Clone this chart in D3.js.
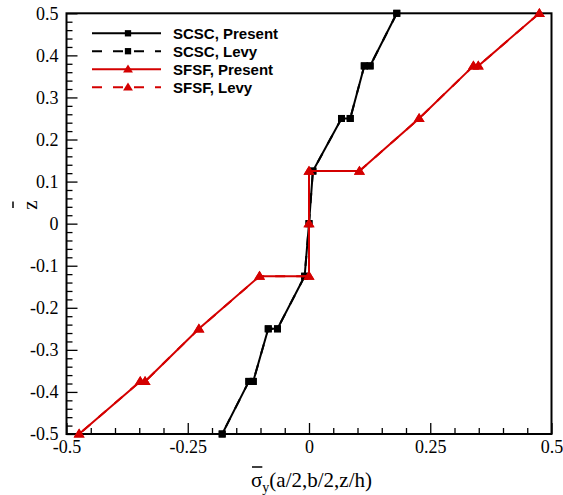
<!DOCTYPE html>
<html><head><meta charset="utf-8">
<script src="https://cdn.jsdelivr.net/npm/d3@7"></script>
<style>body{margin:0;background:#fff}</style>
</head><body><svg id="c" width="563" height="495"></svg>
<script>
// ---- data ----
const scscZ       = [0.5, 0.375, 0.375, 0.25, 0.25, 0.125, 0, -0.125, -0.25, -0.25, -0.375, -0.375, -0.5];
const scscPresent = [0.181, 0.126, 0.114, 0.085, 0.067, 0.008, 0.0, -0.009, -0.065, -0.084, -0.115, -0.124, -0.179];
const scscLevy    = [0.181, 0.126, 0.114, 0.085, 0.067, 0.008, 0.0, -0.009, -0.065, -0.084, -0.115, -0.124, -0.179];
const sfsfZ       = [0.5, 0.375, 0.375, 0.25, 0.125, 0.125, 0, -0.125, -0.125, -0.25, -0.375, -0.375, -0.5];
const sfsfPresent = [0.475, 0.349, 0.339, 0.227, 0.104, 0.0, 0.0, 0.0, -0.102, -0.227, -0.338, -0.348, -0.474];
const sfsfLevy    = [0.475, 0.349, 0.339, 0.227, 0.104, 0.0, 0.0, 0.0, -0.102, -0.227, -0.338, -0.348, -0.474];
const xTicks = [-0.5, -0.25, 0, 0.25, 0.5];
const xTickLabels = ["-0.5", "-0.25", "0", "0.25", "0.5"];
const yTicks = [-0.5, -0.4, -0.3, -0.2, -0.1, 0, 0.1, 0.2, 0.3, 0.4, 0.5];
const yTickLabels = ["-0.5", "-0.4", "-0.3", "-0.2", "-0.1", "0", "0.1", "0.2", "0.3", "0.4", "0.5"];
const legendLabels = ["SCSC, Present", "SCSC, Levy", "SFSF, Present", "SFSF, Levy"];

const RED = "#d40000";
const svg = d3.select("#c");
const L = 66.5, R = 551.5, T = 13.3, B = 434;
const x = d3.scaleLinear().domain([-0.5, 0.5]).range([L, R]);
const y = d3.scaleLinear().domain([-0.5, 0.5]).range([B, T]);

const serif = "Liberation Serif";
const sans = "Liberation Sans";

// minor ticks
const xMinor = d3.range(-10, 11).map(i => i * 0.05).filter(v => !xTicks.some(t => Math.abs(t - v) < 1e-9));
const yMinor = d3.range(-25, 26).map(i => i * 0.02).filter(v => !yTicks.some(t => Math.abs(t - v) < 1e-9));

const gx = svg.append("g").attr("transform", `translate(0,${B})`)
  .call(d3.axisBottom(x).tickValues(xTicks).tickFormat((d, i) => xTickLabels[i]).tickSize(-11).tickPadding(6));
const gxm = svg.append("g").attr("transform", `translate(0,${B})`)
  .call(d3.axisBottom(x).tickValues(xMinor).tickFormat("").tickSize(-6));
const gy = svg.append("g").attr("transform", `translate(${L},0)`)
  .call(d3.axisLeft(y).tickValues(yTicks).tickFormat((d, i) => yTickLabels[i]).tickSize(-11).tickPadding(8));
const gym = svg.append("g").attr("transform", `translate(${L},0)`)
  .call(d3.axisLeft(y).tickValues(yMinor).tickFormat("").tickSize(-6));
[gx, gxm, gy, gym].forEach(g => {
  g.attr("font-family", serif);
  g.select(".domain").remove();
  g.selectAll("line").attr("stroke", "#000").attr("stroke-width", 1.3);
  g.selectAll("text").attr("font-family", serif).attr("font-size", 18).attr("fill", "#000");
});

// frame
svg.append("rect").attr("x", L).attr("y", T).attr("width", R - L).attr("height", B - T)
  .attr("fill", "none").attr("stroke", "#000").attr("stroke-width", 2);

// series
const line = d3.line().x(d => x(d[0])).y(d => y(d[1]));
function series(vals, zs, color, dash, marker) {
  const pts = vals.map((v, i) => [v, zs[i]]);
  svg.append("path").attr("d", line(pts)).attr("fill", "none").attr("stroke", color)
    .attr("stroke-width", 2).attr("stroke-dasharray", dash);
  const g = svg.append("g");
  pts.forEach(p => drawMarker(g, x(p[0]), y(p[1]), color, marker, 1));
}
function drawMarker(g, cx, cy, color, marker, s) {
  if (marker === "square") {
    const w = 7 * s;
    g.append("rect").attr("x", cx - w / 2).attr("y", cy - w / 2).attr("width", w).attr("height", w).attr("fill", color);
  } else {
    const w = 11 * s, h = 9 * s;
    g.append("path").attr("d", `M${cx},${cy - h * 0.6}L${cx + w / 2},${cy + h * 0.4}L${cx - w / 2},${cy + h * 0.4}Z`).attr("fill", color);
  }
}
series(scscPresent, scscZ, "#000", null, "square");
series(scscLevy, scscZ, "#000", "10,11", "square");
series(sfsfPresent, sfsfZ, RED, null, "tri");
series(sfsfLevy, sfsfZ, RED, "10,11", "tri");

// legend
const legY = [33.3, 51.2, 69.3, 87.3];
const legColor = ["#000", "#000", RED, RED];
const legDash = [null, "10,11", null, "10,11"];
const legMarker = ["square", "square", "tri", "tri"];
legendLabels.forEach((lab, i) => {
  svg.append("line").attr("x1", 92).attr("x2", 161).attr("y1", legY[i]).attr("y2", legY[i])
    .attr("stroke", legColor[i]).attr("stroke-width", 2).attr("stroke-dasharray", legDash[i]);
  drawMarker(svg, 128, legY[i], legColor[i], legMarker[i], 0.9);
  svg.append("text").attr("x", 173).attr("y", legY[i] + 5.5).text(lab)
    .attr("font-family", sans).attr("font-weight", "bold").attr("font-size", 15).attr("fill", "#000");
});

// x axis title
const sig = svg.append("text").attr("x", 251).attr("y", 487).attr("font-family", serif).attr("font-size", 21).text("σ");
const sb = sig.node().getBBox();
svg.append("line").attr("x1", sb.x + 1).attr("x2", sb.x + sb.width).attr("y1", 467).attr("y2", 467)
  .attr("stroke", "#000").attr("stroke-width", 1.5);
const rest = svg.append("text").attr("x", sb.x + sb.width).attr("y", 487).attr("font-family", serif).attr("font-size", 21);
rest.append("tspan").attr("font-size", 14).attr("dy", 5).text("y");
rest.append("tspan").attr("dy", -5).text("(a/2,b/2,z/h)");

// y axis title
svg.append("text").attr("transform", "translate(37,205) rotate(-90)").attr("text-anchor", "middle")
  .attr("font-family", serif).attr("font-size", 21).text("z");
svg.append("line").attr("x1", 13).attr("x2", 13).attr("y1", 201.5).attr("y2", 208)
  .attr("stroke", "#000").attr("stroke-width", 1.5);
</script></body></html>
